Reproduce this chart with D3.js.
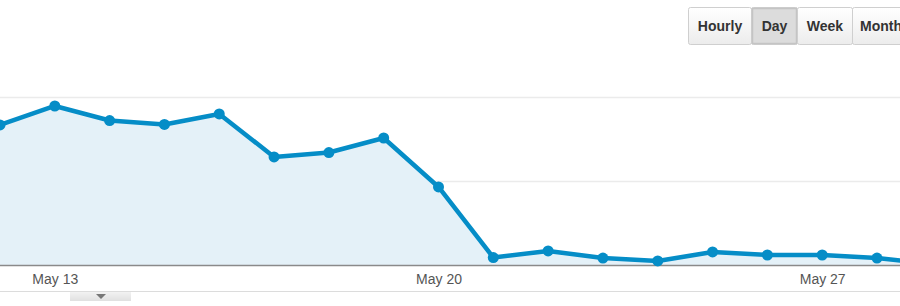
<!DOCTYPE html>
<html>
<head>
<meta charset="utf-8">
<script src="https://cdn.jsdelivr.net/npm/d3@7"></script>
<style>
  html, body { margin: 0; padding: 0; background: #fff; }
  svg { display: block; font-family: "Liberation Sans", Arial, Helvetica, sans-serif; }
</style>
</head>
<body>
<div id="app"></div>
<script>
// 数据
const days = d3.range(12, 30).map(d => new Date(2012, 4, d));
const visits = [1667, 1893, 1720, 1673, 1798, 1286, 1339, 1512, 929, 89, 167, 83, 48, 155, 119, 119, 83, 10];
const tickDates = [new Date(2012, 4, 13), new Date(2012, 4, 20), new Date(2012, 4, 27)];
const gridValues = [1000, 2000];
const buttons = ['Hourly', 'Day', 'Week', 'Month'];
const buttonWidths = [63, 46, 55, 60];
const activeButton = 'Day';

const data = days.map((d, i) => ({ date: d, value: visits[i] }));

const wrapper = { width: 900, height: 306 };

const svg = d3.select('#app')
  .append('svg')
    .attr('width', wrapper.width)
    .attr('height', wrapper.height);

// 比例尺
const x = d3.scaleTime()
  .domain([days[0], new Date(2012, 4, 28)])
  .range([0, 877]);

const y = d3.scaleLinear()
  .domain([0, 2000])
  .range([265, 97]);

const defs = svg.append('defs');
const btnGrad = defs.append('linearGradient').attr('id', 'btn').attr('x1', 0).attr('y1', 0).attr('x2', 0).attr('y2', 1);
btnGrad.append('stop').attr('offset', '0%').attr('stop-color', '#ffffff');
btnGrad.append('stop').attr('offset', '100%').attr('stop-color', '#ececec');
const tabGrad = defs.append('linearGradient').attr('id', 'tab').attr('x1', 0).attr('y1', 0).attr('x2', 0).attr('y2', 1);
tabGrad.append('stop').attr('offset', '0%').attr('stop-color', '#f2f2f2');
tabGrad.append('stop').attr('offset', '100%').attr('stop-color', '#e0e0e0');

// 网格线
svg.append('g')
  .selectAll('line')
  .data(gridValues)
  .join('line')
    .attr('x1', 0)
    .attr('x2', wrapper.width)
    .attr('y1', d => y(d) + 0.5)
    .attr('y2', d => y(d) + 0.5)
    .attr('stroke', '#ebebeb')
    .attr('stroke-width', 1.5);

// 面积
const area = d3.area()
  .x(d => x(d.date))
  .y0(y(0))
  .y1(d => y(d.value));

svg.append('path')
  .datum(data)
  .attr('d', area)
  .attr('fill', '#e4f1f8');

// 坐标轴
const xAxis = d3.axisBottom(x)
  .tickValues(tickDates)
  .tickFormat(d3.timeFormat('%b %-d'))
  .tickSize(0)
  .tickPadding(9);

const axisG = svg.append('g')
  .attr('transform', `translate(0, ${y(0)})`)
  .call(xAxis);

axisG.select('.domain').remove();
axisG.selectAll('text')
  .attr('fill', '#555')
  .attr('font-size', 14)
  .attr('font-family', '"Liberation Sans", Arial, sans-serif');

svg.append('line')
  .attr('x1', 0).attr('x2', wrapper.width)
  .attr('y1', y(0) + 0.5).attr('y2', y(0) + 0.5)
  .attr('stroke', '#8a8a8a')
  .attr('stroke-width', 1.5);

// 折线
const line = d3.line()
  .x(d => x(d.date))
  .y(d => y(d.value));

svg.append('path')
  .datum(data)
  .attr('d', line)
  .attr('fill', 'none')
  .attr('stroke', '#058dc7')
  .attr('stroke-width', 4.5)
  .attr('stroke-linejoin', 'round');

svg.append('g')
  .selectAll('circle')
  .data(data)
  .join('circle')
    .attr('cx', d => x(d.date))
    .attr('cy', d => y(d.value))
    .attr('r', 5.5)
    .attr('fill', '#058dc7');

// 底部线和小标签
svg.append('line')
  .attr('x1', 0).attr('x2', wrapper.width)
  .attr('y1', 291.5).attr('y2', 291.5)
  .attr('stroke', '#dcdcdc');

svg.append('rect')
  .attr('x', 70).attr('y', 292)
  .attr('width', 61).attr('height', 9)
  .attr('fill', 'url(#tab)');

svg.append('path')
  .attr('d', 'M96,294 L106,294 L101,299 Z')
  .attr('fill', '#777');

// 按钮
const btnX = d3.cumsum([688, ...buttonWidths]);
const btnG = svg.append('g')
  .selectAll('g')
  .data(buttons)
  .join('g')
    .attr('transform', (d, i) => `translate(${btnX[i]}, 7)`);

btnG.append('rect')
  .attr('x', 0.5).attr('y', 0.5)
  .attr('width', (d, i) => buttonWidths[i])
  .attr('height', 37)
  .attr('rx', 2)
  .attr('fill', d => d === activeButton ? '#dcdcdc' : 'url(#btn)')
  .attr('stroke', '#cfcfcf');

btnG.filter(d => d === activeButton)
  .append('rect')
  .attr('x', 1.5).attr('y', 1.5)
  .attr('width', buttonWidths[1] - 2)
  .attr('height', 35)
  .attr('fill', 'none')
  .attr('stroke', '#c4c4c4')
  .attr('stroke-width', 1.5);

btnG.append('text')
  .attr('x', d => d === 'Month' ? 8 : buttonWidths[buttons.indexOf(d)] / 2 + 0.5)
  .attr('y', 23.5)
  .attr('text-anchor', d => d === 'Month' ? 'start' : 'middle')
  .attr('font-size', 14)
  .attr('font-weight', 'bold')
  .attr('fill', '#333')
  .text(d => d);
</script>
</body>
</html>
